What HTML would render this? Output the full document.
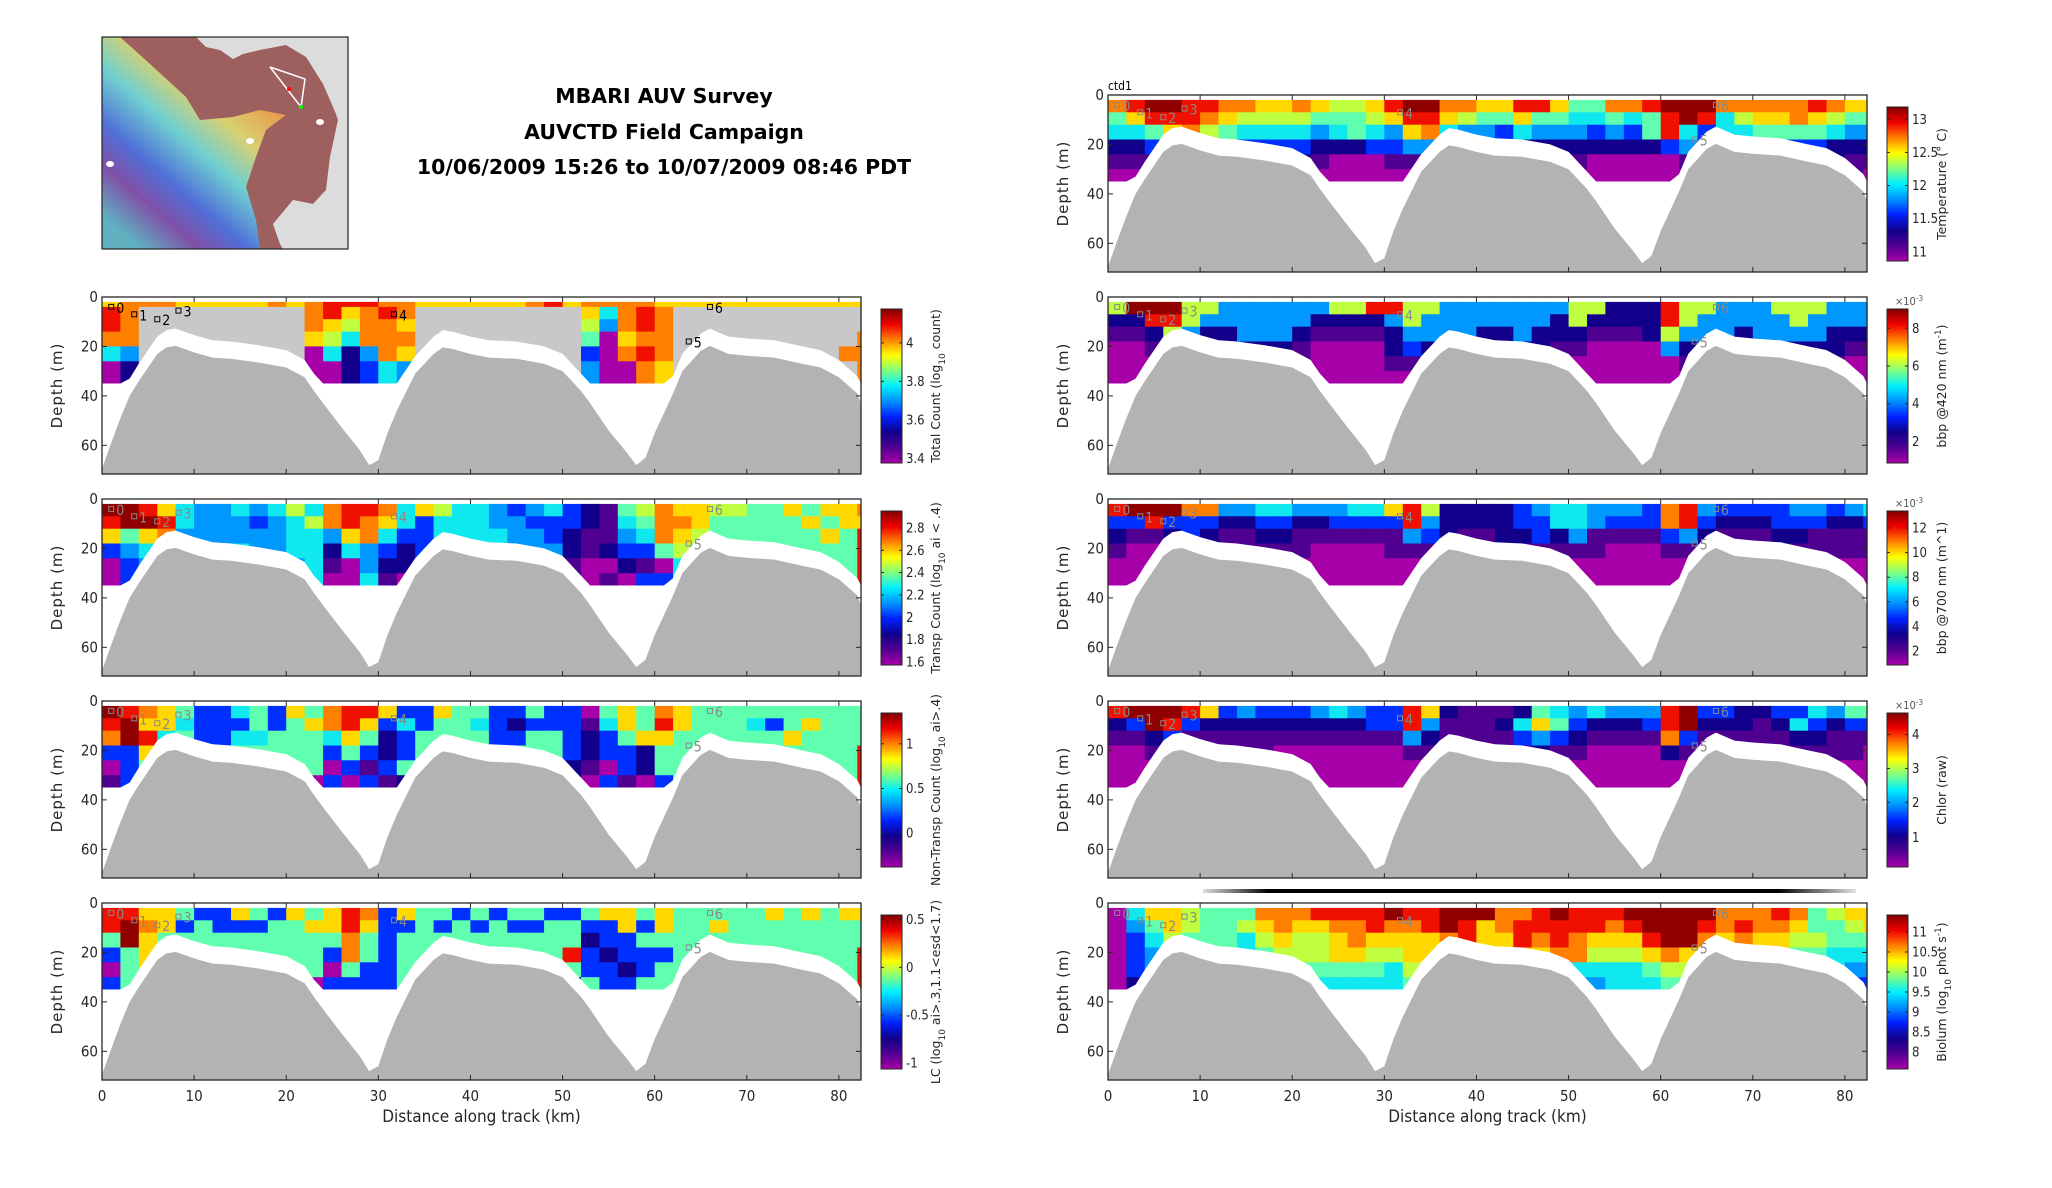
<!DOCTYPE html>
<html><head><meta charset="utf-8"><title>MBARI AUV Survey</title>
<style>
html,body{margin:0;padding:0;background:#fff;}
svg{display:block;font-family:"DejaVu Sans Condensed","Liberation Sans Narrow","Liberation Sans",sans-serif;}
</style></head>
<body>
<svg id="fig" width="2052" height="1188" viewBox="0 0 2052 1188" xmlns="http://www.w3.org/2000/svg">
<defs>
<linearGradient id="jet" x1="0" y1="1" x2="0" y2="0">
<stop offset="0" stop-color="#a800a8"/><stop offset="0.1" stop-color="#500090"/><stop offset="0.2" stop-color="#10008c"/>
<stop offset="0.3" stop-color="#0020ff"/><stop offset="0.4" stop-color="#0090ff"/><stop offset="0.5" stop-color="#00f0ff"/>
<stop offset="0.6" stop-color="#80ff80"/><stop offset="0.7" stop-color="#ffff00"/><stop offset="0.8" stop-color="#ff8000"/>
<stop offset="0.9" stop-color="#f00000"/><stop offset="1" stop-color="#800000"/>
</linearGradient>
<linearGradient id="rainbow" x1="1" y1="0" x2="0" y2="1">
<stop offset="0.2" stop-color="#d84a3a"/><stop offset="0.33" stop-color="#e8a050"/><stop offset="0.45" stop-color="#d8d070"/>
<stop offset="0.57" stop-color="#70d0d0"/><stop offset="0.7" stop-color="#5070d8"/><stop offset="0.8" stop-color="#8050a8"/>
<stop offset="0.92" stop-color="#60b0c0"/>
</linearGradient>
<linearGradient id="gbar" x1="0" y1="0" x2="1" y2="0">
<stop offset="0" stop-color="#e0e0e0"/><stop offset="0.1" stop-color="#000"/><stop offset="0.88" stop-color="#000"/><stop offset="1" stop-color="#e0e0e0"/>
</linearGradient>
</defs>

<g>
<rect x="102" y="37" width="246" height="212" fill="url(#rainbow)"/>
<polygon fill="#9e5f5f" points="120,37 196,37 206,47 220,50 233,59 243,54 260,50 286,45 306,57 323,84 336,114 338,120 330,157 326,190 313,204 293,200 273,224 280,244 283,249 260,249 256,220 246,187 256,157 266,130 286,115 260,110 233,117 200,120 186,97 150,64"/>
<polygon fill="#dcdcdc" points="196,37 348,37 348,249 283,249 280,244 273,224 293,200 313,204 326,190 330,157 338,120 336,114 323,84 306,57 286,45 260,50 243,54 233,59 220,50 206,47"/>
<polyline fill="none" stroke="#fff" stroke-width="1.5" points="270,67 305,79 301,107 270,67"/>
<circle cx="289" cy="89" r="2" fill="#f00"/><circle cx="301" cy="107" r="2" fill="#0f0"/>
<ellipse cx="320" cy="122" rx="4" ry="3" fill="#fff"/><ellipse cx="250" cy="141" rx="4" ry="3" fill="#fff"/><ellipse cx="110" cy="164" rx="4" ry="3" fill="#fff"/>
<rect x="102" y="37" width="246" height="212" fill="none" stroke="#222" stroke-width="1.2"/>
</g>

<g font-weight="bold" font-size="20.5" text-anchor="middle" fill="#000" font-family="DejaVu Sans, sans-serif">
<text x="664" y="103">MBARI AUV Survey</text>
<text x="664" y="139">AUVCTD Field Campaign</text>
<text x="664" y="174">10/06/2009 15:26 to 10/07/2009 08:46 PDT</text>
</g>
<g id="panels"></g>
</svg>
<script>
const bottomKm=[0,1,2,3,4,6,7,8,10,12,14,17,20,22,23,24,26,28,29,30,31,32,34,36,37,38,40,42,45,48,50,52,53,55,57,58,59,60,61,62,63,65,66,68,70,73,76,78,80,82,82.4];
const bottomDepth=[69.5,59,49,40,34,23,20.4,19.8,22.4,24.5,25,26.5,28.5,32.5,38,43,52.7,62,68,66,55,46,31,23,20.4,21,23,24.5,25,27,30,38,43,54,63,68,65,55,47,39,30,21.8,19.8,23,23.8,24.5,27,28.5,32.5,39,43];
const xTicks=[0,10,20,30,40,50,60,70,80];
const yTicks=[0,20,40,60];
const markerNames=["0","1","2","3","4","5","6"];
const markerKm=[1,3.5,6,8.3,31.7,63.7,66];
const markerDepth=[4,7,9,5.5,7,18,4];
const defaultBands=[2,7,12,18,24,30,35];
const tcBands=[2,4,9,14,20,26,35];

const tempGrid=[
"9abbaa 998898 778abb 9988aa 86699a bbb999 99a988",
"68aaa9 877776 6678aa 876686 655656 aba578 898766",
"556897 655554 565489 544354 443436 a53556 666544",
"223444 333332 223344 333222 222222 343333 333222",
"111222 222221 000112 222222 210000 012222 222211",
"001111 111110 000001 111111 100000 001111 111110"];
const bbp420Grid=[
"7bbb77 444444 77aa77 444444 477222 a77444 777444",
"22aa74 444442 222474 444444 272222 a74444 474444",
"112742 244421 111244 442242 221112 744424 444222",
"001222 222210 000232 222222 110000 422222 222211",
"000111 111110 000111 111111 100000 011111 111100",
"000000 000000 000000 000000 000000 000000 000000"];
const bbp700Grid=[
"abbb99 445544 4558a7 222234 554443 9a4333 344345",
"33a333 223322 3333a4 222233 554333 9a3222 333223",
"211232 112211 111143 211223 241111 342111 221111",
"100111 111110 000111 111111 111000 111111 111111",
"000000 111000 000001 111111 100000 001111 110000",
"000000 000000 000000 000000 000000 000000 000000"];
const chlorGrid=[
"abbba8 343334 5433a8 211126 545444 ab3322 335466",
"23ba32 222222 2233a4 111258 632223 ab2221 253233",
"112311 111111 111142 111134 321111 931111 122111",
"001110 011000 000011 011112 110000 210000 111110",
"000000 000000 000000 000000 000000 000000 000000",
"000000 000000 000000 000000 000000 000000 000000"];
const bioGrid=[
"058876 66999a aaabaa bbb99a baaabb bbb999 a96788",
"046876 678988 99a99a ba89aa aaa9ab bba9a9 986678",
"035766 657877 898888 9a88a9 a9888a bb9898 877666",
"034555 556777 887788 887788 997778 987777 766555",
"034555 555566 666577 776677 855556 776666 655544",
"024444 444455 555566 665556 644555 665555 544433"];
const tcGrid=[
"899988 888989 aaa998 888889 a89999 888888 888888",
"a9gggg ggggg9 a89a9g gggggg gg859a 9ggggg gggggg",
"a9gggg ggggg9 87998g gggggg gg749a 9ggggg gggggg",
"99gggg ggggg8 75999g gggggg gg6089 9ggggg ggggg9",
"54gggg ggggg0 52498g gggggg gg309a 9ggggg gggg99",
"02gggg ggggg0 02354g gggggg gg4009 8ggggg ggggg9"];
const trGrid=[
"bba854 454575 9aa958 755434 532167 988776 686889",
"abba54 443457 9a9853 555443 332156 998666 668688",
"868944 444455 489533 555544 321145 987666 66686a",
"345544 554455 254323 555544 421233 676666 66666a",
"034444 444445 104224 555544 410021 056666 66666a",
"034444 444445 005104 555544 420103 366666 66666a"];
const ntGrid=[
"ba9863 356386 9aa833 866336 330686 986666 666666",
"ab8853 336368 9a8353 665323 331586 a86665 368666",
"9ba563 355666 586236 666336 632368 866666 686666",
"338666 666666 363236 666666 632332 666666 66666a",
"036666 666666 031366 666666 621032 666666 66666a",
"136666 666660 303126 666666 620310 366666 66666a"];
const lcGrid=[
"aa8863 386386 8a9386 636366 336886 866666 868688",
"ab9836 333668 8a8336 363633 663383 866866 666666",
"6b8666 666666 696366 666666 662336 666666 666666",
"368666 666666 396366 666666 6a3233 366666 66666a",
"068666 666666 063366 666666 663323 666666 66666a",
"366666 666660 333366 666666 626336 666666 66666a"];

const tcTicks=["3.4","3.6","3.8","4"], tcTickFrac=[0.03,0.28,0.53,0.78];
const trTicks=["1.6","1.8","2","2.2","2.4","2.6","2.8"], trTickFrac=[0.02,0.165,0.31,0.455,0.6,0.745,0.89];
const ntTicks=["0","0.5","1"], ntTickFrac=[0.22,0.51,0.8];
const lcTicks=["-1","-0.5","0","0.5"], lcTickFrac=[0.04,0.35,0.66,0.97];
const tempTicks=["11","11.5","12","12.5","13"], tempTickFrac=[0.06,0.275,0.49,0.705,0.92];
const bbp420Ticks=["2","4","6","8"], bbp420TickFrac=[0.14,0.385,0.63,0.875];
const bbp700Ticks=["2","4","6","8","10","12"], bbp700TickFrac=[0.09,0.25,0.41,0.57,0.73,0.89];
const chlorTicks=["1","2","3","4"], chlorTickFrac=[0.19,0.42,0.64,0.86];
const bioTicks=["8","8.5","9","9.5","10","10.5","11"], bioTickFrac=[0.11,0.24,0.37,0.5,0.63,0.76,0.89];

const levelColors={'0':'#a800a8','1':'#500090','2':'#12008c','3':'#0030ff','4':'#0098ff','5':'#10e8f0','6':'#60ffb0','7':'#c0ff40','8':'#ffd800','9':'#ff8000','a':'#f01000','b':'#900000','g':'#c8c8c8'};

const panels=[
 {name:"total-count",x:102,y:297,grid:tcGrid,bands:tcBands,ticks:tcTicks,frac:tcTickFrac,label:'Total Count (log<tspan baseline-shift="sub" font-size="9">10</tspan> count)',mk:"#000",xlab:false},
 {name:"transp-count",x:102,y:499,grid:trGrid,bands:defaultBands,ticks:trTicks,frac:trTickFrac,label:'Transp Count (log<tspan baseline-shift="sub" font-size="9">10</tspan> ai &lt; .4)',mk:"#888",xlab:false},
 {name:"non-transp-count",x:102,y:701,grid:ntGrid,bands:defaultBands,ticks:ntTicks,frac:ntTickFrac,label:'Non-Transp Count (log<tspan baseline-shift="sub" font-size="9">10</tspan> ai&gt;.4)',mk:"#888",xlab:false},
 {name:"lc",x:102,y:903,grid:lcGrid,bands:defaultBands,ticks:lcTicks,frac:lcTickFrac,label:'LC (log<tspan baseline-shift="sub" font-size="9">10</tspan> ai&gt;.3,1.1&lt;esd&lt;1.7)',mk:"#888",xlab:true},
 {name:"temperature",x:1108,y:95,grid:tempGrid,bands:defaultBands,ticks:tempTicks,frac:tempTickFrac,label:'Temperature (° C)',mk:"#888",xlab:false,ctd:true},
 {name:"bbp420",x:1108,y:297,grid:bbp420Grid,bands:defaultBands,ticks:bbp420Ticks,frac:bbp420TickFrac,label:'bbp @420 nm (m<tspan baseline-shift="super" font-size="9">-1</tspan>)',mk:"#888",xlab:false,exp:true},
 {name:"bbp700",x:1108,y:499,grid:bbp700Grid,bands:defaultBands,ticks:bbp700Ticks,frac:bbp700TickFrac,label:'bbp @700 nm (m^1)',mk:"#888",xlab:false,exp:true},
 {name:"chlor",x:1108,y:701,grid:chlorGrid,bands:defaultBands,ticks:chlorTicks,frac:chlorTickFrac,label:'Chlor (raw)',mk:"#888",xlab:false,exp:true},
 {name:"biolum",x:1108,y:903,grid:bioGrid,bands:defaultBands,ticks:bioTicks,frac:bioTickFrac,label:'Biolum (log<tspan baseline-shift="sub" font-size="9">10</tspan> phot s<tspan baseline-shift="super" font-size="9">-1</tspan>)',mk:"#888",xlab:true,bar:true}
];

const W=759,H=177,XMAX=82.4,YMAX=71.6;
const NS="http://www.w3.org/2000/svg";
const root=document.getElementById("panels");
function mk(tag,attrs,parent){const e=document.createElementNS(NS,tag);for(const k in attrs)e.setAttribute(k,attrs[k]);parent.appendChild(e);return e;}

panels.forEach(p=>{
  const sx=km=>p.x+km*W/XMAX, sy=d=>p.y+d*H/YMAX;
  const g=mk("g",{},root);
  
  
  const cells=mk("g",{},g);
  
  
  p.grid.forEach((rowRaw,r)=>{
    const row=rowRaw.replace(/ /g,"");
    for(let i=0;i<42;i++){
      const ch=row[i]||row[row.length-1];
      const k0=i*2,k1=Math.min(XMAX,i*2+2);
      if(k0>=XMAX)break;
      const rc=mk("rect",{x:sx(k0).toFixed(1),y:sy(p.bands[r]).toFixed(1),width:(sx(k1)-sx(k0)+0.6).toFixed(1),height:(sy(p.bands[r+1])-sy(p.bands[r])+0.6).toFixed(1),fill:levelColors[ch]||'#c8c8c8'},cells);
      
      
    }
  });
  let pts=bottomKm.map((k,i)=>sx(k).toFixed(1)+","+sy(Math.min(35,bottomDepth[i]-7)).toFixed(1));
  pts.push(sx(XMAX)+","+sy(YMAX+1),sx(0)+","+sy(YMAX+1));
  const wp=mk("polygon",{points:pts.join(" "),fill:"#fff"},g);
  
  
  pts=bottomKm.map((k,i)=>sx(k).toFixed(1)+","+sy(bottomDepth[i]).toFixed(1));
  pts.push(sx(XMAX)+","+sy(YMAX),sx(0)+","+sy(YMAX));
  const sf=mk("polygon",{points:pts.join(" "),fill:"#b3b3b3"},g);
  
  
  markerNames.forEach((n,i)=>{
    const r=mk("rect",{x:sx(markerKm[i])-2.5,y:sy(markerDepth[i])-2.5,width:5,height:5,fill:"none",stroke:p.mk,"stroke-width":1},g);
    
    
    const t=mk("text",{x:sx(markerKm[i])+5,y:sy(markerDepth[i])+6,"font-size":14,fill:p.mk},g);
    t.textContent=n;
    
    
  });
  const fr=mk("rect",{x:p.x,y:p.y,width:W,height:H,fill:"none",stroke:"#262626","stroke-width":1.3},g);
  
  
  xTicks.forEach(v=>{
    const X=sx(v);
    mk("line",{x1:X,x2:X,y1:p.y,y2:p.y+5,stroke:"#262626"},g);
    mk("line",{x1:X,x2:X,y1:p.y+H,y2:p.y+H-5,stroke:"#262626"},g);
    if(p.xlab){const t=mk("text",{x:X,y:p.y+H+21,"font-size":15,"text-anchor":"middle",fill:"#262626"},g);t.textContent=v;
      
      }
  });
  yTicks.forEach(v=>{
    const Y=sy(v);
    mk("line",{x1:p.x,x2:p.x+5,y1:Y,y2:Y,stroke:"#262626"},g);
    mk("line",{x1:p.x+W,x2:p.x+W-5,y1:Y,y2:Y,stroke:"#262626"},g);
    const t=mk("text",{x:p.x-4,y:Y+5,"font-size":15,"text-anchor":"end",fill:"#262626"},g);t.textContent=v;
    
    
  });
  const yl=mk("text",{x:0,y:0,"font-size":15,"text-anchor":"middle",fill:"#262626","font-family":"DejaVu Sans, sans-serif","letter-spacing":"1",transform:`translate(${p.x-40},${p.y+H/2}) rotate(-90)`},g);
  yl.textContent="Depth (m)";
  
  
  if(p.xlab){const t=mk("text",{x:p.x+W/2,y:p.y+H+42,"font-size":17,"text-anchor":"middle",fill:"#262626"},g);t.textContent="Distance along track (km)";
    
    }
  if(p.ctd){const t=mk("text",{x:p.x,y:p.y-5,"font-size":12,fill:"#000"},g);t.textContent="ctd1";
    
    }
  if(p.bar){const b=mk("rect",{x:sx(10.3),y:p.y-14,width:sx(81.2)-sx(10.3),height:4,fill:"url(#gbar)"},g);
    
    }
  const cx=p.x+W+20, cy=p.y+12, ch=154, cw=21;
  const cb=mk("g",{},g);
  
  
  mk("rect",{x:cx,y:cy,width:cw,height:ch,fill:"url(#jet)",stroke:"#262626","stroke-width":1},cb);
  p.ticks.forEach((lab,i)=>{
    const Y=cy+ch*(1-p.frac[i]);
    mk("line",{x1:cx,x2:cx+3,y1:Y,y2:Y,stroke:"#262626"},cb);
    mk("line",{x1:cx+cw,x2:cx+cw-3,y1:Y,y2:Y,stroke:"#262626"},cb);
    const t=mk("text",{x:cx+cw+4,y:Y+4.5,"font-size":13,fill:"#262626"},cb);t.textContent=lab;
    
    
  });
  if(p.exp){const t=mk("text",{x:cx+22,y:cy-4,"font-size":11,fill:"#555","text-anchor":"middle"},cb);t.innerHTML='×10<tspan baseline-shift="super" font-size="8">-3</tspan>';
    
    }
  const ct=mk("text",{x:0,y:0,"font-size":12.5,"text-anchor":"middle",fill:"#262626","font-family":"DejaVu Sans, sans-serif",transform:`translate(${cx+cw+38},${cy+ch/2}) rotate(-90)`},cb);
  ct.innerHTML=p.label;
  
  
});
</script>
</body></html>
